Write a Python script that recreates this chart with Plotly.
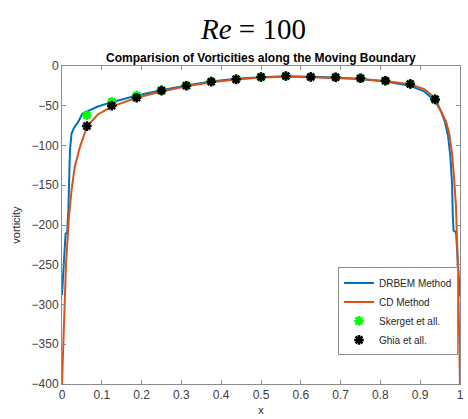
import plotly.graph_objects as go

# DRBEM solution along the moving lid
drbem_x = [0.0, 0.004, 0.009, 0.013, 0.016, 0.02, 0.024, 0.03, 0.041, 0.051, 0.0625,
           0.09, 0.125, 0.1875, 0.25, 0.3125, 0.375, 0.4375, 0.5, 0.5625, 0.625,
           0.6875, 0.75, 0.8125, 0.875, 0.91, 0.9375, 0.953, 0.962, 0.97, 0.976,
           0.98, 0.982, 0.984, 0.99, 0.995, 1.0]
drbem_w = [-288, -250, -211, -209, -181, -106, -85, -78, -70, -60, -57.5,
           -51, -45.5, -37, -30.5, -24.5, -19.5, -16, -14, -13, -13.5,
           -14.5, -16.5, -19.5, -25, -32, -44, -58, -70, -88, -115,
           -148, -190, -207, -209, -250, -290]

# CD solution along the moving lid
cd_x = [0.0, 0.003, 0.0057, 0.01, 0.0174, 0.0241, 0.032, 0.045, 0.063, 0.09,
        0.125, 0.1875, 0.25, 0.3125, 0.375, 0.4375, 0.5, 0.5625, 0.625, 0.6875,
        0.75, 0.8125, 0.875, 0.91, 0.9375, 0.953, 0.965, 0.973, 0.98, 0.985,
        0.99, 0.995, 1.0]
cd_w = [-400, -345, -295, -250, -190, -156, -127, -102, -76, -61,
        -51, -40, -32, -25.5, -20.5, -17, -14.5, -13.5, -14, -15,
        -16.5, -19, -23, -29, -40, -57.5, -70, -85, -110, -140,
        -177, -260, -400]

# Reference values
skerget_x = [0.0625, 0.125, 0.1875, 0.25, 0.3125, 0.375, 0.4375, 0.5, 0.5625,
             0.625, 0.6875, 0.75, 0.8125, 0.875, 0.9375]
skerget_w = [-62, -45, -37, -30.5, -24.5, -19.5, -16.5, -14, -12.8,
             -13.6, -14.2, -15.5, -18.5, -22.5, -42]
ghia_x = [0.0625, 0.125, 0.1875, 0.25, 0.3125, 0.375, 0.4375, 0.5, 0.5625,
          0.625, 0.6875, 0.75, 0.8125, 0.875, 0.9375]
ghia_w = [-75.6, -50, -40, -31, -24.8, -19.7, -16.8, -13.9, -12.6,
          -13.9, -14.2, -15.5, -18.5, -22.7, -42]

x_ticks = [0, 0.1, 0.2, 0.3, 0.4, 0.5, 0.6, 0.7, 0.8, 0.9, 1]
x_tick_text = ["0", "0.1", "0.2", "0.3", "0.4", "0.5", "0.6", "0.7", "0.8", "0.9", "1"]
y_ticks = [0, -50, -100, -150, -200, -250, -300, -350, -400]

fig = go.Figure()
fig.add_trace(go.Scatter(x=drbem_x, y=drbem_w, mode="lines", name="DRBEM Method",
                         line=dict(color="#0072BD", width=2)))
fig.add_trace(go.Scatter(x=cd_x, y=cd_w, mode="lines", name="CD Method",
                         line=dict(color="#D95319", width=2)))
fig.add_trace(go.Scatter(x=skerget_x, y=skerget_w, mode="markers", name="Skerget et all.",
                         marker=dict(symbol="asterisk-open", size=8, color="#00FF00",
                                     line=dict(color="#00FF00", width=2.5))))
fig.add_trace(go.Scatter(x=ghia_x, y=ghia_w, mode="markers", name="Ghia et all.",
                         marker=dict(symbol="asterisk-open", size=8, color="#000000",
                                     line=dict(color="#000000", width=2.5))))

axis_common = dict(
    showgrid=False, zeroline=False, showline=True, linecolor="#8c8c8c", linewidth=1,
    mirror="ticks", ticks="inside", ticklen=4, tickcolor="#8c8c8c",
    tickfont=dict(family="Liberation Sans, Arial", size=12, color="#404040"),
)

fig.update_layout(
    width=468, height=419,
    margin=dict(l=62, r=4, t=66, b=35),
    paper_bgcolor="white", plot_bgcolor="white",
    showlegend=True,
    legend=dict(x=0.995, y=0.09, xanchor="right", yanchor="bottom",
                bgcolor="white", bordercolor="#8c8c8c", borderwidth=1,
                font=dict(family="Liberation Sans, Arial", size=10, color="#262626"),
                tracegroupgap=0, itemwidth=30),
    xaxis=dict(range=[0, 1], tickvals=x_ticks, ticktext=x_tick_text,
               title=dict(text="x", standoff=4,
                          font=dict(family="Liberation Sans, Arial", size=11, color="#262626")),
               **axis_common),
    yaxis=dict(range=[-400, 0], tickvals=y_ticks,
               title=dict(text="vorticity", standoff=8,
                          font=dict(family="Liberation Sans, Arial", size=11, color="#262626")),
               **axis_common),
    annotations=[
        dict(text="<i>Re</i> = 100", xref="paper", yref="paper",
             x=(255 - 62) / 402, y=1 + (66 - 29) / 318, xanchor="center", yanchor="middle",
             showarrow=False,
             font=dict(family="Liberation Serif, Times New Roman", size=29, color="black")),
        dict(text="<b>Comparision of Vorticities along the Moving Boundary</b>",
             xref="paper", yref="paper", x=0.5, y=1 + (66 - 58) / 318,
             xanchor="center", yanchor="middle", showarrow=False,
             font=dict(family="Liberation Sans, Arial", size=12, color="black")),
    ],
)

fig.write_html("out.html")
